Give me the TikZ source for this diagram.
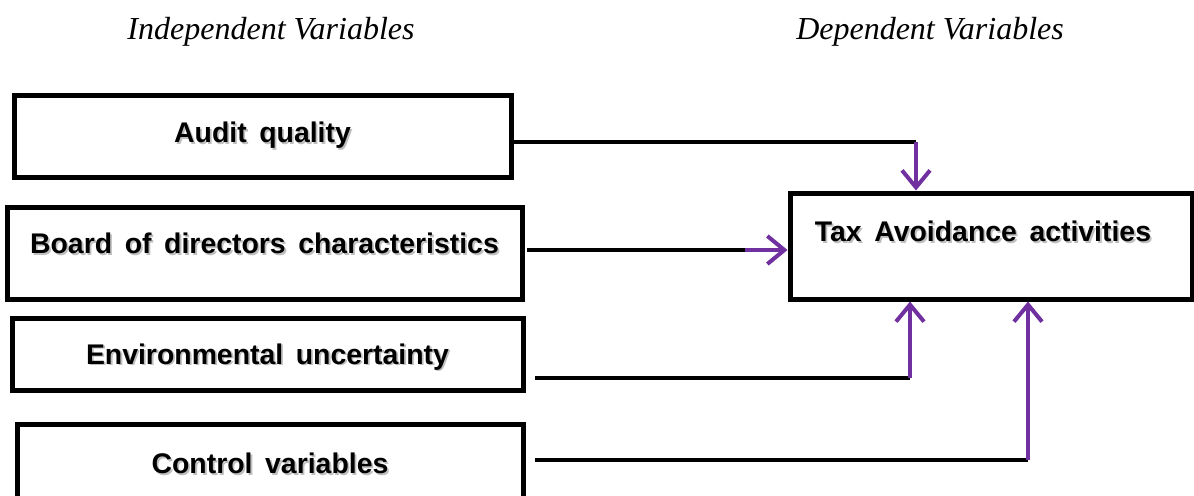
\documentclass[tikz,border=0pt]{standalone}
\usepackage{fontspec}
\setmainfont{Liberation Serif}
\newfontfamily\boxfont[WordSpace=1.6]{Liberation Sans}
\usetikzlibrary{arrows.meta}
\definecolor{arrowpurple}{RGB}{112,48,160}
\newcommand{\shtext}[1]{\leavevmode\rlap{\kern0.9pt\raisebox{-0.9pt}{\color{black!25}#1}}#1}
\tikzset{
  varbox/.style={draw, line width=2.5pt, rectangle, font=\boxfont\bfseries\fontsize{14.2}{16}\selectfont, inner sep=0pt},
  blackline/.style={line width=2pt, black},
  purplearrow/.style={line width=2pt, arrowpurple, -{Straight Barb[length=8.5pt,width=14pt,line width=2pt]}},
  heading/.style={font=\itshape\fontsize{16}{18}\selectfont}
}
\begin{document}
\begin{tikzpicture}[x=0.5pt,y=-0.5pt]
\useasboundingbox (0,0) rectangle (1194,495);

\node[heading] (iv) at (271,32) {Independent Variables};
\node[heading] (dv) at (930,32) {Dependent Variables};

\node[varbox, minimum width=248.5pt, minimum height=41pt] (aq) at (262.5,136) {\shtext{Audit quality}};
\node[varbox, minimum width=257.5pt, minimum height=46pt, text depth=10pt] (bd) at (264.5,253) {\shtext{Board of directors characteristics}};
\node[varbox, minimum width=255.5pt, minimum height=36pt, text height=14pt] (eu) at (267.5,354) {\shtext{Environmental uncertainty}};
\node[varbox, minimum width=253pt, minimum height=37pt, text height=14pt] (cv) at (270,461) {\shtext{Control variables}};
\node[varbox, minimum width=201pt, minimum height=53pt, text depth=15pt] (tax) at (991,246) {\shtext{Tax Avoidance activities}\kern8pt\null};

\coordinate (a1) at (916,142);
\coordinate (b1) at (527,250);
\coordinate (b2) at (745,250);
\coordinate (e1) at (535,378);
\coordinate (e2) at (910,378);
\coordinate (c1) at (535,460);
\coordinate (c2) at (1028,460);

\draw[blackline] (aq.east |- a1) -- (a1);
\draw[purplearrow] (a1) -- (a1 |- tax.north);
\draw[blackline] (b1) -- (b2);
\draw[purplearrow] (b2) -- (b2 -| tax.west);
\draw[blackline] (e1) -- (e2);
\draw[purplearrow] (e2) -- (e2 |- tax.south);
\draw[blackline] (c1) -- (c2);
\draw[purplearrow] (c2) -- (c2 |- tax.south);
\end{tikzpicture}
\end{document}
